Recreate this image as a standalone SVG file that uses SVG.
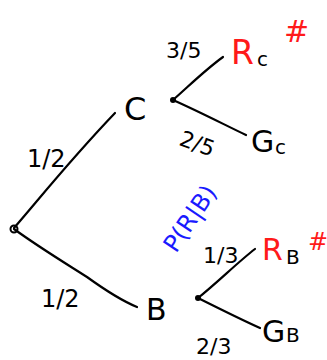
<svg xmlns="http://www.w3.org/2000/svg" width="327" height="360" viewBox="0 0 327 360">
<style>
.ln{fill:none;stroke:#000;stroke-width:2.2;stroke-linecap:round;stroke-linejoin:round}
.t{font-family:"DejaVu Sans","Liberation Sans",sans-serif;fill:#000}
.r{fill:#ff1a1a}
.b{fill:#1a1aff}
</style>
<rect width="327" height="360" fill="#fff"/>
<g id="connectors">
<path class="ln" d="M14,228 C40,198 70,160 115,113"/>
<path class="ln" d="M14,229 C40,248 70,266 87,277 C105,290 120,300 137,307"/>
<path class="ln" d="M173,100 C190,85 205,70 223,57"/>
<path class="ln" d="M173,100 C200,112 225,125 246,135"/>
<path class="ln" d="M198,298 C218,282 238,262 255,249"/>
<path class="ln" d="M198,298 C222,310 242,320 260,328"/>
</g>
<g id="root"><circle cx="14" cy="229" r="3.5" fill="none" stroke="#000" stroke-width="2"/></g>
<g id="nodeC">
<text class="t" x="124" y="120" font-size="32">C</text>
<circle cx="173" cy="100" r="3" fill="#000"/>
</g>
<g id="nodeB">
<text class="t" x="146" y="320" font-size="30">B</text>
<circle cx="198" cy="298" r="3" fill="#000"/>
</g>
<g id="Rc">
<text class="t r" x="231" y="64" font-size="33">R</text>
<text class="t" x="257" y="66" font-size="20">c</text>
<text class="t r" x="284" y="42" font-size="30">#</text>
</g>
<g id="Gc">
<text class="t" x="251" y="152" font-size="30">G</text>
<text class="t" x="275" y="154" font-size="20">c</text>
</g>
<g id="RB">
<text class="t r" x="262" y="260" font-size="30">R</text>
<text class="t" x="286" y="264" font-size="20">B</text>
<text class="t r" x="308" y="250" font-size="24">#</text>
</g>
<g id="GB">
<text class="t" x="262" y="342" font-size="30">G</text>
<text class="t" x="286" y="342" font-size="20">B</text>
</g>
<g id="labels">
<text class="t" x="166" y="58" font-size="22">3/5</text>
<text class="t" x="181" y="152" font-size="22" transform="rotate(20 200 140)">2/5</text>
<text class="t" x="27" y="167" font-size="24">1/2</text>
<text class="t" x="41" y="307" font-size="24">1/2</text>
<text class="t" x="203" y="263" font-size="22">1/3</text>
<text class="t" x="196" y="354" font-size="22">2/3</text>
<text class="t b" x="0" y="0" font-size="24" transform="translate(176,254) rotate(-56)">P(R|B)</text>
</g>
</svg>
